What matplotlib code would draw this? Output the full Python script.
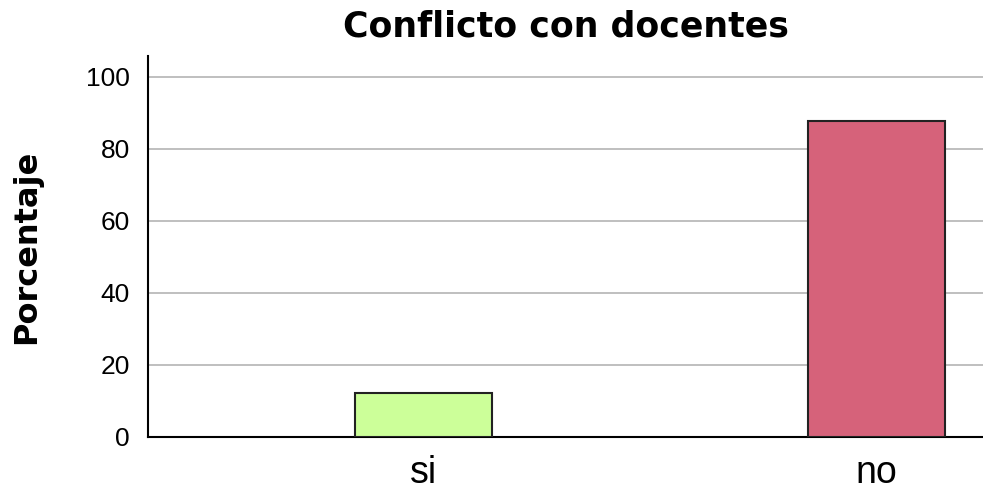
import matplotlib
matplotlib.use('Agg')
import matplotlib.pyplot as plt

plt.rcParams['font.family'] = ['Liberation Sans', 'DejaVu Sans']

# data
categories = ['si', 'no']
percentages = [12.1, 87.7]
bar_colors = ['#ccff99', '#d6627a']
y_ticks = [0, 20, 40, 60, 80, 100]

fig = plt.figure(figsize=(9.83, 4.95), dpi=100)
ax = fig.add_axes([0.1506, 0.1172, 0.8494, 0.7697])

x = list(range(len(categories)))
ax.bar(x, percentages, width=0.302, color=bar_colors, edgecolor='#222222', linewidth=1.5, zorder=3)

ax.set_xlim(-0.608, 1.235)
ax.set_ylim(0, 105.8)
ax.set_yticks(y_ticks)
ax.set_yticklabels([str(t) for t in y_ticks], fontsize=19)
ax.set_xticks(x)
ax.set_xticklabels(categories, fontsize=27)
ax.tick_params(axis='y', length=0, pad=13)
ax.tick_params(axis='x', length=0, pad=13)

ax.grid(True, axis='y', color='#b4b4b4', linewidth=1.2, zorder=0)
ax.set_axisbelow(True)

for side in ['top', 'right']:
    ax.spines[side].set_visible(False)
ax.spines['left'].set_linewidth(1.5)
ax.spines['bottom'].set_linewidth(1.5)

ax.set_ylabel('Porcentaje', fontsize=23, fontweight='bold', family='DejaVu Sans', labelpad=32)
ax.set_title('Conflicto con docentes', fontsize=25, fontweight='bold', family='DejaVu Sans', pad=14)

plt.savefig('out.png', dpi=100)
